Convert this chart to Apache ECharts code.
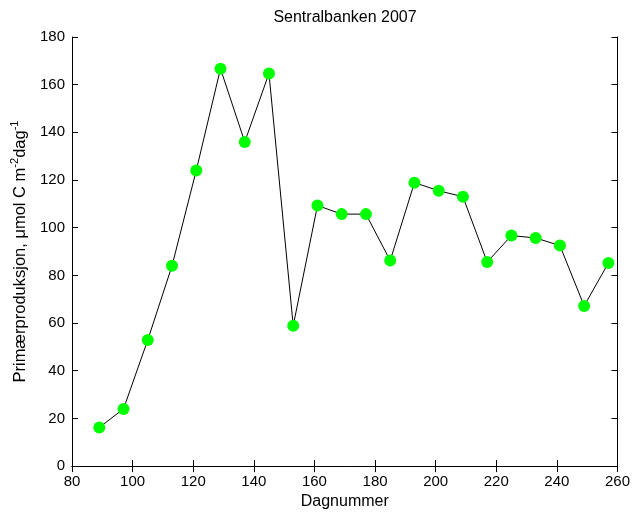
<!DOCTYPE html>
<html>
<head>
<meta charset="utf-8">
<script src="https://cdn.jsdelivr.net/npm/echarts@6/dist/echarts.min.js"></script>
<style>
  html, body { margin: 0; padding: 0; background: #fff; }
  #chart { width: 633px; height: 515px; }
</style>
</head>
<body>
<div id="chart"></div>
<script>
// Day of year for each sampling
const days = [89, 97, 105, 113, 121, 129, 137, 145, 153, 161, 169, 177, 185, 193, 201, 209, 217, 225, 233, 241, 249, 257];
// Primary production, µmol C m-2 day-1
const production = [16.2, 24.0, 52.9, 84.0, 124.0, 166.7, 136.0, 164.7, 58.9, 109.3, 105.7, 105.7, 86.2, 118.9, 115.5, 113.0, 85.6, 96.7, 95.7, 92.5, 67.2, 85.2];

const xTicks = { min: 80, max: 260, interval: 20 };
const yTicks = { min: 0, max: 180, interval: 20 };

const FONT = '"Liberation Sans", Arial, sans-serif';
const points = days.map((d, i) => [d, production[i]]);

const chart = echarts.init(document.getElementById('chart'), null, { renderer: 'canvas' });

const axisLine = { show: true, lineStyle: { color: '#000', width: 1 } };
const axisTick = { show: true, inside: true, length: 6, lineStyle: { color: '#000', width: 1 } };

chart.setOption({
  animation: false,
  backgroundColor: '#fff',
  title: {
    text: 'Sentralbanken 2007',
    left: 345,
    textAlign: 'center',
    top: 10,
    padding: 0,
    textStyle: { fontFamily: FONT, fontSize: 16, fontWeight: 'normal', color: '#000' }
  },
  grid: { left: 72, right: 11, top: 37, bottom: 45, containLabel: false },
  xAxis: [
    {
      type: 'value', position: 'bottom',
      min: xTicks.min, max: xTicks.max, interval: xTicks.interval,
      name: 'Dagnummer', nameLocation: 'middle', nameGap: 27,
      nameTextStyle: { fontFamily: FONT, fontSize: 16, color: '#000' },
      axisLine, axisTick,
      axisLabel: { margin: 8, fontFamily: FONT, fontSize: 15, color: '#000' },
      splitLine: { show: false }
    },
    {
      type: 'value', position: 'top',
      min: xTicks.min, max: xTicks.max, interval: xTicks.interval,
      axisLine, axisTick,
      axisLabel: { show: false }, splitLine: { show: false }
    }
  ],
  yAxis: [
    {
      type: 'value', position: 'left',
      min: yTicks.min, max: yTicks.max, interval: yTicks.interval,
      name: '{a|Primærproduksjon, μmol C m}{s|-2}{a|dag}{s|-1}',
      nameLocation: 'middle', nameGap: 42, nameRotate: 90,
      nameTextStyle: {
        fontFamily: FONT, color: '#000',
        rich: {
          a: { fontFamily: FONT, fontSize: 16.5, color: '#000', lineHeight: 20, verticalAlign: 'bottom' },
          s: { fontFamily: FONT, fontSize: 11, color: '#000', lineHeight: 11, verticalAlign: 'top' }
        }
      },
      axisLine, axisTick,
      axisLabel: { margin: 7, fontFamily: FONT, fontSize: 15, color: '#000' },
      splitLine: { show: false }
    },
    {
      type: 'value', position: 'right',
      min: yTicks.min, max: yTicks.max, interval: yTicks.interval,
      axisLine, axisTick,
      axisLabel: { show: false }, splitLine: { show: false }
    }
  ],
  series: [
    {
      type: 'line',
      data: points,
      xAxisIndex: 0, yAxisIndex: 0,
      lineStyle: { color: '#000', width: 1 },
      symbol: 'circle', symbolSize: 12,
      itemStyle: { color: '#00ff00', borderWidth: 0 },
      z: 3
    }
  ]
});
</script>
</body>
</html>
